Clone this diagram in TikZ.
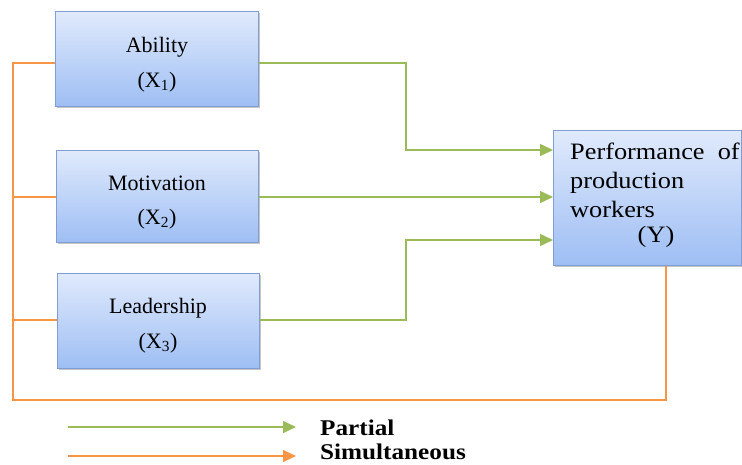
\documentclass[tikz,border=0pt]{standalone}
\usepackage{fontspec}
\setmainfont{Liberation Serif}
\newfontfamily\widefont[FakeStretch=1.12]{Liberation Serif}
\usetikzlibrary{arrows.meta,shadows,calc}
\definecolor{grn}{RGB}{155,187,89}
\definecolor{org}{RGB}{247,150,70}
\definecolor{boxtop}{RGB}{224,234,252}
\definecolor{boxbot}{RGB}{158,190,244}
\definecolor{boxline}{RGB}{128,158,212}
\tikzset{
  varbox/.style={rectangle, draw=boxline, line width=0.8pt, top color=boxtop, bottom color=boxbot,
    inner sep=0pt, anchor=north west,
    drop shadow={shadow xshift=1.5pt, shadow yshift=-2pt, fill=black!45, opacity=0.5}},
  lbl/.style={font=\fontsize{22}{26}\selectfont, inner sep=0pt, anchor=base},
  ytxt/.style={font=\widefont\fontsize{23.5}{28}\selectfont, inner sep=0pt, anchor=base west},
  legtxt/.style={font=\widefont\bfseries\fontsize{22.5}{27}\selectfont, inner sep=0pt, anchor=base west},
  gline/.style={draw=grn, line width=1.6pt},
  oline/.style={draw=org, line width=1.6pt},
  garrow/.style={gline, -{Triangle[length=13pt,width=12pt]}},
  oarrow/.style={oline, -{Triangle[length=13pt,width=12pt]}},
}
\begin{document}
\begin{tikzpicture}[x=1pt,y=-1pt]
\useasboundingbox (0,0) rectangle (742,464);
% boxes
\node[varbox, minimum width=203pt, minimum height=95pt] (ab) at (55,11) {};
\node[varbox, minimum width=202pt, minimum height=92pt] (mo) at (56,150) {};
\node[varbox, minimum width=202pt, minimum height=95pt] (le) at (57,273) {};
\node[varbox, minimum width=188pt, minimum height=135pt] (y) at (553,130) {};
% labels
\node[lbl] (abt) at (157,52) {Ability};
\node[lbl] (abx) at (157,87) {(X\textsubscript{1})};
\node[lbl] (mot) at (157,190) {Motivation};
\node[lbl] (mox) at (157,224) {(X\textsubscript{2})};
\node[lbl] (let) at (158,313) {Leadership};
\node[lbl] (lex) at (158,348) {(X\textsubscript{3})};
\node[ytxt] (y1) at (570,159) {Performance\ \ of};
\node[ytxt] (y2) at (570,188) {production};
\node[ytxt] (y3) at (570,217) {workers};
\node[ytxt, anchor=base] (y4) at (656,242) {(Y)};
% coordinates
\coordinate (ka) at (406,63);
\coordinate (kl) at (406,320);
\coordinate (ol) at (13,63);
\coordinate (ob) at (13,400);
\coordinate (or) at (666,400);
% green connectors
\draw[garrow] (ab.east |- ka) -- (ka) -- (ka |- 0,150) -- (y.west |- 0,150);
\draw[garrow] (mo.east |- 0,197) -- (y.west |- 0,197);
\draw[garrow] (le.east |- kl) -- (kl) -- (kl |- 0,240) -- (y.west |- 0,240);
% orange connectors
\draw[oline] (ab.west |- ol) -- (ol) -- (ob) -- (or) -- (or |- y.south);
\draw[oline] (ol |- 0,197) -- (mo.west |- 0,197);
\draw[oline] (ol |- 0,320) -- (le.west |- 0,320);
% legend
\coordinate (g0) at (68,427);
\coordinate (g1) at (296,427);
\coordinate (o0) at (68,456);
\coordinate (o1) at (296,456);
\draw[garrow] (g0) -- (g1);
\draw[oarrow] (o0) -- (o1);
\node[legtxt] (lp) at (320,435) {Partial};
\node[legtxt] (ls) at (320,459) {Simultaneous};
\end{tikzpicture}
\end{document}
